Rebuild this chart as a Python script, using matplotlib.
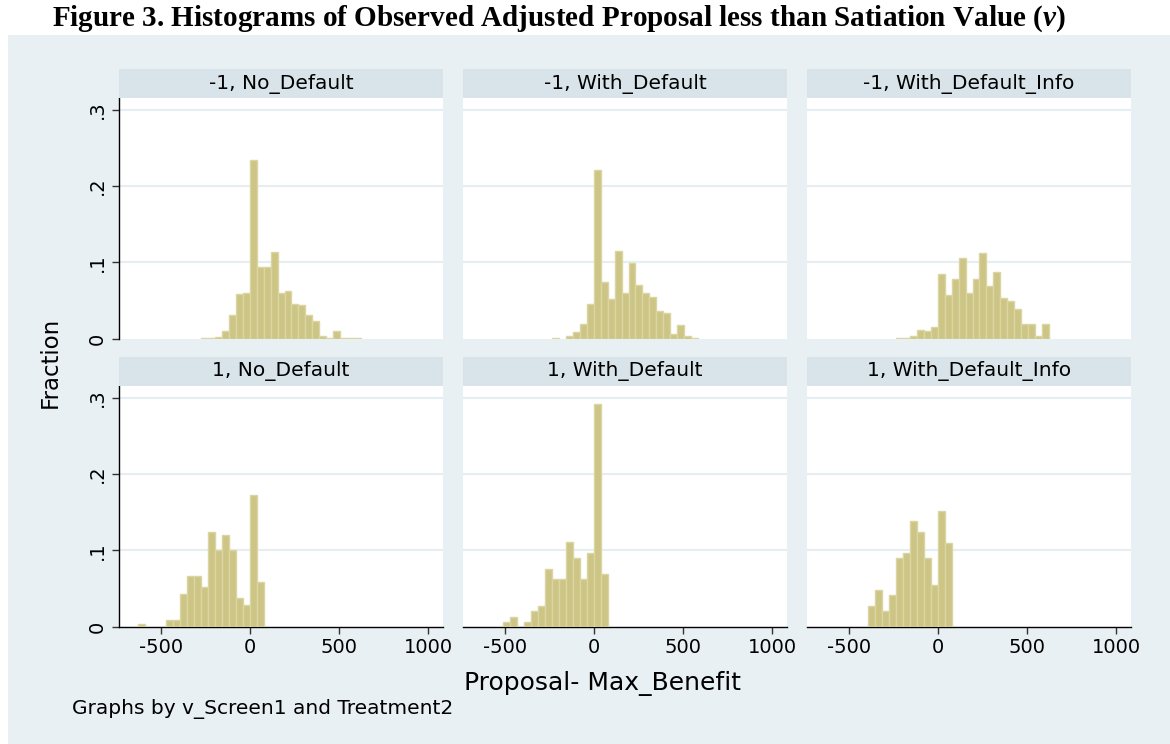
import matplotlib.pyplot as plt
import numpy as np
from matplotlib.patches import Rectangle

# histogram bins shared by every panel (Stata by() graph)
bin_start = -630
bin_width = 39.2

# fraction of observations per bin, first value is in bin number first_bin
m1_no_default = [0.001, 0.001, 0.002, 0.010, 0.031, 0.059, 0.060, 0.234, 0.094, 0.094,
                 0.114, 0.060, 0.062, 0.046, 0.044, 0.031, 0.023, 0.003, 0.001, 0.010,
                 0.001, 0.001, 0.001]
m1_with_default = [0.001, 0.0, 0.004, 0.009, 0.019, 0.046, 0.221, 0.075, 0.052, 0.115,
                   0.060, 0.099, 0.071, 0.060, 0.055, 0.036, 0.034, 0.006, 0.018, 0.004,
                   0.001]
m1_with_default_info = [0.001, 0.001, 0.004, 0.011, 0.010, 0.015, 0.085, 0.057, 0.078, 0.106,
                        0.060, 0.078, 0.113, 0.069, 0.087, 0.054, 0.050, 0.039, 0.019, 0.019,
                        0.004, 0.019]
p1_no_default = [0.004, 0.0, 0.0, 0.0, 0.009, 0.009, 0.043, 0.067, 0.067, 0.052,
                 0.124, 0.100, 0.120, 0.100, 0.038, 0.029, 0.173, 0.058]
p1_with_default = [0.006, 0.013, 0.0, 0.006, 0.021, 0.027, 0.076, 0.062, 0.062, 0.111,
                   0.090, 0.062, 0.097, 0.292, 0.069]
p1_with_default_info = [0.027, 0.048, 0.020, 0.041, 0.090, 0.097, 0.138, 0.124, 0.090, 0.055,
                        0.152, 0.110]

panel_titles = ["-1, No_Default", "-1, With_Default", "-1, With_Default_Info",
                "1, No_Default", "1, With_Default", "1, With_Default_Info"]
panel_first_bin = [9, 10, 10, 0, 3, 6]
panel_values = [m1_no_default, m1_with_default, m1_with_default_info,
                p1_no_default, p1_with_default, p1_with_default_info]

x_ticks = [-500, 0, 500, 1000]
y_ticks = [0, 0.1, 0.2, 0.3]
y_ticklabels = ["0", ".1", ".2", ".3"]

W, H = 1170, 744
bg = "#e8f0f3"
strip_col = "#d8e4ea"
grid_col = "#e6eef1"
bar_face = "#cdc585"
bar_edge = "#dbd5a2"

fig = plt.figure(figsize=(W / 100, H / 100), dpi=100)
fig.patch.set_facecolor("white")
fig.patches.append(Rectangle((8 / W, 0), 1 - 8 / W, 1 - 35 / H, transform=fig.transFigure,
                             facecolor=bg, edgecolor="none", zorder=-1))

col_left = [119, 463, 807]
row_top = [97.7, 385.7]
pw, ph = 324, 241
strip_h = 28.4

for i in range(6):
    r, c = divmod(i, 3)
    left, top = col_left[c], row_top[r]
    ax = fig.add_axes([left / W, 1 - (top + ph) / H, pw / W, ph / H])
    ax.set_facecolor("white")

    first = panel_first_bin[i]
    vals = np.array(panel_values[i])
    edges = bin_start + bin_width * (first + np.arange(len(vals)))
    keep = vals > 0
    ax.bar(edges[keep], vals[keep], width=bin_width, align="edge",
           color=bar_face, edgecolor=bar_edge, linewidth=1.0, zorder=3)

    for y in y_ticks[1:]:
        ax.axhline(y, color=grid_col, lw=1.6, zorder=1)

    ax.set_xlim(-736, 1083)
    ax.set_ylim(0, 0.316)
    for s in ax.spines.values():
        s.set_visible(False)

    if c == 0:
        ax.spines["left"].set_visible(True)
        ax.spines["left"].set_color("black")
        ax.spines["left"].set_linewidth(1.0)
        ax.set_yticks(y_ticks)
        ax.set_yticklabels(y_ticklabels, rotation=90, va="center", fontsize=14)
        ax.tick_params(axis="y", length=5, width=1, color="#333333", pad=4)
    else:
        ax.set_yticks([])

    if r == 1:
        ax.spines["bottom"].set_visible(True)
        ax.spines["bottom"].set_color("black")
        ax.spines["bottom"].set_linewidth(1.0)
        ax.set_xticks(x_ticks)
        ax.set_xticklabels([str(t) for t in x_ticks], fontsize=14)
        ax.tick_params(axis="x", length=5, width=1, color="#333333", pad=3)
    else:
        ax.set_xticks([])

    # strip with panel title
    fig.patches.append(Rectangle((left / W, 1 - top / H), pw / W, strip_h / H,
                                 transform=fig.transFigure, facecolor=strip_col,
                                 edgecolor="none", zorder=0))
    fig.text((left + pw / 2) / W, 1 - (top - strip_h / 2) / H, panel_titles[i],
             ha="center", va="center", fontsize=14.5)

fig.text(50 / W, 1 - 362 / H, "Fraction", rotation=90, ha="center", va="center", fontsize=16.5)
fig.text(603 / W, 1 - 684 / H, "Proposal- Max_Benefit", ha="center", va="center", fontsize=18)
fig.text(72 / W, 1 - 709 / H, "Graphs by v_Screen1 and Treatment2", ha="left", va="center",
         fontsize=14.5)

plt.rcParams["mathtext.fontset"] = "custom"
plt.rcParams["mathtext.it"] = "Liberation Serif:italic:bold"
plt.rcParams["mathtext.rm"] = "Liberation Serif:bold"
fig.text(559 / W, 1 - 19 / H,
         r"Figure 3. Histograms of Observed Adjusted Proposal less than Satiation Value ($\mathit{v}$)",
         ha="center", va="center", fontsize=21, fontweight="bold", family="Liberation Serif")

fig.savefig("out.png", dpi=100)
